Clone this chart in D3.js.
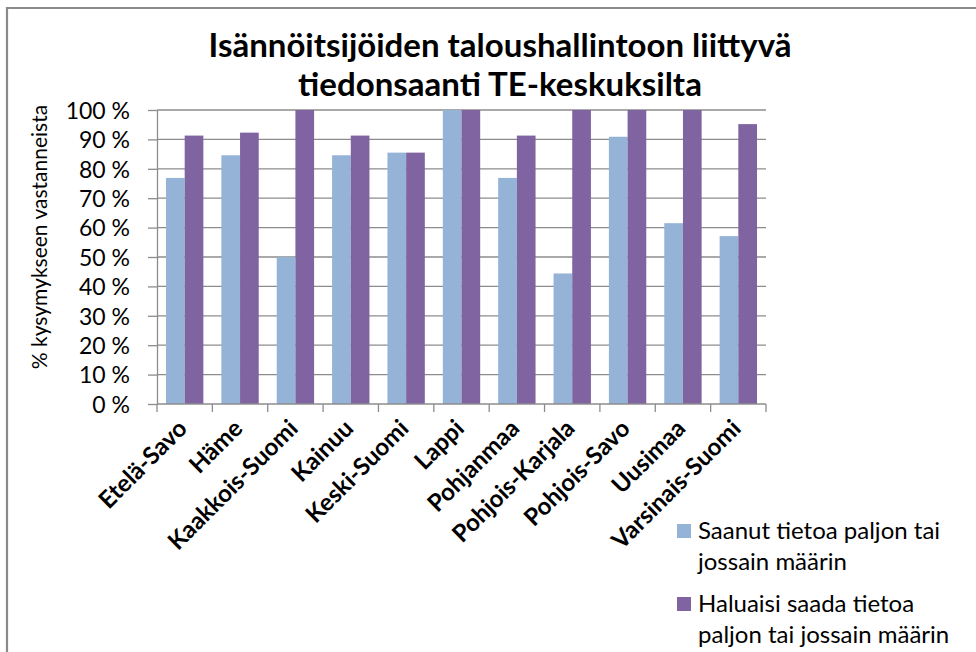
<!DOCTYPE html>
<html>
<head>
<meta charset="utf-8">
<script src="https://cdn.jsdelivr.net/npm/d3@7"></script>
<style>
    body { margin: 0; background: #fff; }
    svg { display: block; }
</style>
</head>
<body>
<script>
const regions = ["Etelä-Savo", "Häme", "Kaakkois-Suomi", "Kainuu", "Keski-Suomi", "Lappi",
    "Pohjanmaa", "Pohjois-Karjala", "Pohjois-Savo", "Uusimaa", "Varsinais-Suomi"];
const series_names = ["Saanut tietoa paljon tai jossain määrin", "Haluaisi saada tietoa paljon tai jossain määrin"];
const saanut = [76.9, 84.6, 50, 84.6, 85.5, 100, 76.9, 44.4, 90.9, 61.5, 57.1];
const haluaisi = [91.3, 92.3, 100, 91.3, 85.5, 100, 91.3, 100, 100, 100, 95.2];
const y_ticks = [0, 10, 20, 30, 40, 50, 60, 70, 80, 90, 100];
const title_lines = ["Isännöitsijöiden taloushallintoon liittyvä", "tiedonsaanti TE-keskuksilta"];
const y_title = "% kysymykseen vastanneista";
const legend_lines = [["Saanut tietoa paljon tai", "jossain määrin"], ["Haluaisi saada tietoa", "paljon tai jossain määrin"]];

const colours = ["#95b3d7", "#8064a2"];
const font = "Lato, 'Open Sans', sans-serif";

const wb = 976;
const hb = 652;
const margin = { top: 110, left: 157, right: 210, bottom: 248 };
const width = wb - margin.left - margin.right;
const height = hb - margin.top - margin.bottom;

const root = d3.select("body")
    .append("svg")
    .attr("width", wb)
    .attr("height", hb);

// outer frame (only top and left visible)
root.append("path")
    .attr("d", `M7,${hb + 5}V8H${wb + 5}`)
    .attr("fill", "none")
    .attr("stroke", "#8a8a8a")
    .attr("stroke-width", 2.2);

// title
root.append("g")
    .selectAll("text")
    .data(title_lines)
    .join("text")
    .attr("x", 500)
    .attr("y", (d, i) => 57 + i * 39)
    .attr("text-anchor", "middle")
    .style("font-family", font)
    .style("font-weight", "bold")
    .style("font-size", "33px")
    .style("fill", "#000")
    .text(d => d);

// y axis title
root.append("text")
    .attr("transform", "translate(47, 237) rotate(-90)")
    .attr("text-anchor", "middle")
    .style("font-family", font)
    .style("font-size", "21px")
    .text(y_title);

const svg = root.append("g")
    .attr("transform", `translate(${margin.left}, ${margin.top})`);

const x0 = d3.scaleBand()
    .domain(regions)
    .range([0, width])
    .paddingInner(0.325)
    .paddingOuter(0.1625);
const x1 = d3.scaleBand()
    .domain([0, 1])
    .range([0, x0.bandwidth()]);
const y = d3.scaleLinear()
    .domain([0, 100])
    .range([height, 0]);

// gridlines
svg.append("g")
    .attr("id", "grid")
    .selectAll("line")
    .data(y_ticks.filter(t => t > 0))
    .join("line")
    .attr("x1", 0)
    .attr("x2", width)
    .attr("y1", d => y(d))
    .attr("y2", d => y(d))
    .attr("stroke", "#8c8c8c")
    .attr("stroke-width", 1.3);

// bars
const rows = regions.map((r, i) => ({ key: r, vals: [saanut[i], haluaisi[i]] }));
svg.append("g")
    .attr("id", "bars")
    .selectAll("g")
    .data(rows)
    .join("g")
    .attr("transform", d => `translate(${x0(d.key)}, 0)`)
    .selectAll("rect")
    .data(d => d.vals.map((v, j) => ({ j, v })))
    .join("rect")
    .attr("x", d => x1(d.j))
    .attr("y", d => y(d.v))
    .attr("width", x1.bandwidth())
    .attr("height", d => height - y(d.v))
    .attr("fill", d => colours[d.j]);

// y axis
const yaxis = svg.append("g")
    .attr("id", "y_axis")
    .call(d3.axisLeft(y)
        .tickValues(y_ticks)
        .tickSize(9)
        .tickSizeOuter(0)
        .tickPadding(18)
        .tickFormat(d => `${d} %`));
yaxis.selectAll("line, path").attr("stroke", "#8c8c8c").attr("stroke-width", 1.3);
yaxis.selectAll("text")
    .style("font-family", font)
    .style("font-size", "23px")
    .style("fill", "#000")
    .attr("dy", "0.36em");

// x axis: ticks between categories
const xaxis = svg.append("g")
    .attr("id", "x_axis")
    .attr("transform", `translate(0, ${height})`);
xaxis.append("line")
    .attr("x1", 0).attr("x2", width)
    .attr("stroke", "#8c8c8c").attr("stroke-width", 1.3);
xaxis.selectAll("line.tick")
    .data(d3.range(regions.length + 1))
    .join("line")
    .attr("class", "tick")
    .attr("x1", i => i * x0.step())
    .attr("x2", i => i * x0.step())
    .attr("y1", 0)
    .attr("y2", 8)
    .attr("stroke", "#8c8c8c").attr("stroke-width", 1.3);
xaxis.selectAll("text")
    .data(regions)
    .join("text")
    .attr("transform", d => `translate(${x0(d) + x0.bandwidth() / 2 - 2}, 20) rotate(-45)`)
    .attr("text-anchor", "end")
    .attr("dy", "0.35em")
    .style("font-family", font)
    .style("font-weight", "bold")
    .style("font-size", "24px")
    .text(d => d);

// legend
const legend = root.append("g")
    .attr("id", "legend")
    .selectAll("g")
    .data(series_names)
    .join("g")
    .attr("transform", (d, i) => `translate(677, ${524 + i * 73})`);
legend.append("rect")
    .attr("width", 14)
    .attr("height", 14)
    .attr("fill", (d, i) => colours[i]);
legend.append("text")
    .style("font-family", font)
    .style("font-size", "24px")
    .selectAll("tspan")
    .data((d, i) => legend_lines[i])
    .join("tspan")
    .attr("x", 21)
    .attr("y", (d, k) => 15 + k * 31)
    .text(d => d);
</script>
</body>
</html>
